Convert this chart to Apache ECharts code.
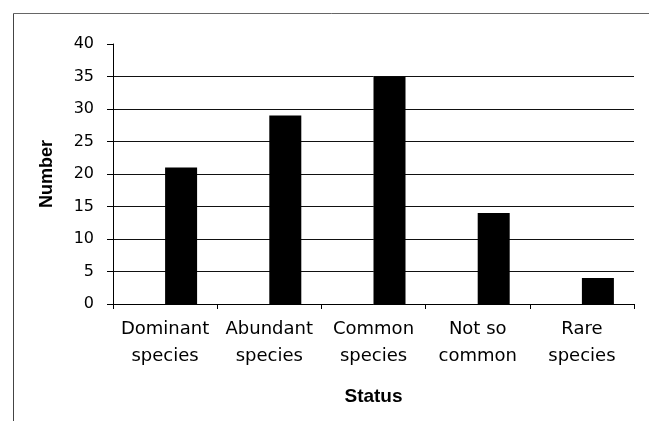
<!DOCTYPE html>
<html><head><meta charset="utf-8">
<script src="https://cdn.jsdelivr.net/npm/echarts@6/dist/echarts.min.js"></script>
<style>html,body{margin:0;padding:0;background:#fff}#c{width:649px;height:421px}</style>
</head><body><div id="c"></div>
<script>
const categories = ['Dominant\nspecies', 'Abundant\nspecies', 'Common\nspecies', 'Not so\ncommon', 'Rare\nspecies'];
const values = [21, 29, 35, 14, 4];
const emptySeries = ['-', '-', '-', '-', '-'];
const yTicks = { min: 0, max: 40, interval: 5 };

const chart = echarts.init(document.getElementById('c'), null, { renderer: 'canvas' });
const font = 'Liberation Sans, Arial, sans-serif';
const wideFont = 'DejaVu Sans, Liberation Sans, sans-serif';
const gridColors = [];
for (let v = yTicks.min; v <= yTicks.max; v += yTicks.interval) gridColors.push(v === yTicks.max ? 'rgba(0,0,0,0)' : '#111');
chart.setOption({
  animation: false,
  backgroundColor: '#fff',
  graphic: [
    { type: 'line', shape: { x1: 13.5, y1: 13.5, x2: 649, y2: 13.5 }, style: { stroke: '#666', lineWidth: 1 } },
    { type: 'line', shape: { x1: 13.5, y1: 13.5, x2: 13.5, y2: 421 }, style: { stroke: '#444', lineWidth: 1 } }
  ],
  grid: { left: 113, right: 15, top: 44, bottom: 117, containLabel: false },
  xAxis: {
    type: 'category', data: categories,
    axisLine: { lineStyle: { color: '#000', width: 1 } },
    axisTick: { show: true, length: 5, lineStyle: { color: '#000' } },
    axisLabel: { color: '#000', fontFamily: wideFont, fontSize: 18, lineHeight: 27, margin: 12, interval: 0 },
    name: 'Status', nameLocation: 'middle', nameGap: 83,
    nameTextStyle: { color: '#000', fontFamily: font, fontSize: 19, fontWeight: 'bold' }
  },
  yAxis: {
    type: 'value', min: yTicks.min, max: yTicks.max, interval: yTicks.interval,
    axisLine: { show: true, lineStyle: { color: '#000', width: 1 } },
    axisTick: { show: true, length: 6, lineStyle: { color: '#000' } },
    axisLabel: { color: '#000', fontFamily: wideFont, fontSize: 16, margin: 19 },
    splitLine: { show: true, lineStyle: { color: gridColors, width: 1 } },
    name: 'Number', nameLocation: 'middle', nameGap: 57,
    nameTextStyle: { color: '#000', fontFamily: font, fontSize: 18, fontWeight: 'bold' }
  },
  series: [
    { type: 'bar', data: emptySeries, barWidth: 32, barGap: '0%', itemStyle: { color: '#000' } },
    { type: 'bar', data: values, barWidth: 32, barGap: '0%', itemStyle: { color: '#000' } }
  ]
});
</script></body></html>
